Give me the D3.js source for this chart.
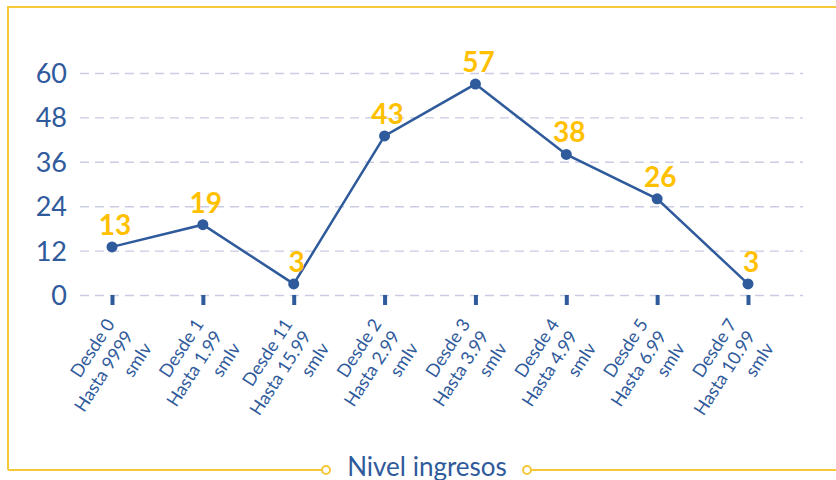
<!DOCTYPE html>
<html>
<head>
<meta charset="utf-8">
<script src="https://cdn.jsdelivr.net/npm/d3@7"></script>
<style>
  html, body { margin: 0; padding: 0; background: #fff; }
  svg { display: block; font-family: "Lato", "Noto Sans", sans-serif; }
</style>
</head>
<body>
<svg id="chart" width="836" height="480"></svg>
<script>
// Income brackets (each label drawn on three lines)
const categories = [
  "Desde 0\nHasta 9999\nsmlv",
  "Desde 1\nHasta 1.99\nsmlv",
  "Desde 11\nHasta 15.99\nsmlv",
  "Desde 2\nHasta 2.99\nsmlv",
  "Desde 3\nHasta 3.99\nsmlv",
  "Desde 4\nHasta 4.99\nsmlv",
  "Desde 5\nHasta 6.99\nsmlv",
  "Desde 7\nHasta 10.99\nsmlv"
];
const values = [13, 19, 3, 43, 57, 38, 26, 3];
const yTicks = [0, 12, 24, 36, 48, 60];
const axisTitle = "Nivel ingresos";

const BLUE = "#2F5A9B";
const GOLD = "#FFC000";
const FRAME = "#F7C73A";
const GRID = "#C9CCE2";

const svg = d3.select("#chart");

const plot = { left: 80, right: 803, top: 73, bottom: 295 };

const y = d3.scaleLinear().domain([0, 60]).range([plot.bottom, plot.top]);
const x = d3.scalePoint().domain(categories).range([112, 748]);
// Anchor points for the rotated category labels (end of the middle line)
const xLabel = d3.scalePoint().domain(categories).range([130, 752]);

// Frame: top + left border, bottom rule interrupted by the axis title
const frame = svg.append("g").attr("fill", "none").attr("stroke", FRAME).attr("stroke-width", 2);
frame.append("path").attr("d", "M8,470 V7 H836");
frame.append("line").attr("x1", 8).attr("x2", 322).attr("y1", 470).attr("y2", 470);
frame.append("line").attr("x1", 531).attr("x2", 836).attr("y1", 470).attr("y2", 470);
frame.selectAll("circle.knob").data([326, 527]).join("circle")
  .attr("class", "knob").attr("cx", d => d).attr("cy", 470).attr("r", 4)
  .attr("fill", "#fff");

svg.append("text")
  .attr("x", 427).attr("y", 476)
  .attr("text-anchor", "middle")
  .attr("fill", BLUE)
  .attr("font-size", 26)
  .text(axisTitle);

// Y axis with dashed gridlines
const yAxis = svg.append("g")
  .attr("transform", `translate(${plot.left},0)`)
  .call(d3.axisLeft(y).tickValues(yTicks).tickSize(-(plot.right - plot.left)).tickPadding(13));
yAxis.select(".domain").remove();
yAxis.selectAll(".tick line")
  .attr("stroke", GRID).attr("stroke-width", 1.4).attr("stroke-dasharray", "9,6");
yAxis.selectAll(".tick text")
  .attr("fill", BLUE).attr("font-size", 27).attr("font-family", "Lato, sans-serif")
  .attr("dy", "0.35em");

// X axis: short heavy ticks, rotated three-line labels
const xAxis = svg.append("g")
  .attr("transform", `translate(0,${plot.bottom})`)
  .call(d3.axisBottom(x).tickSize(10).tickFormat(""));
xAxis.select(".domain").remove();
xAxis.selectAll(".tick line").attr("stroke", BLUE).attr("stroke-width", 4);

const labels = svg.append("g")
  .selectAll("text")
  .data(categories)
  .join("text")
  .attr("transform", d => `translate(${xLabel(d) + 4},${plot.bottom + 41}) rotate(-57)`)
  .attr("text-anchor", "end")
  .attr("fill", BLUE)
  .attr("font-size", 18);
labels.selectAll("tspan")
  .data(d => d.split("\n"))
  .join("tspan")
  .attr("x", 0)
  .attr("y", (d, i) => (i - 1) * 22)
  .text(d => d);

// Series line and markers
const line = d3.line().x((d, i) => x(categories[i])).y(d => y(d));
svg.append("path")
  .datum(values)
  .attr("d", line)
  .attr("fill", "none")
  .attr("stroke", BLUE)
  .attr("stroke-width", 2.5);

svg.append("g").selectAll("circle")
  .data(values)
  .join("circle")
  .attr("cx", (d, i) => x(categories[i]))
  .attr("cy", d => y(d))
  .attr("r", 5.5)
  .attr("fill", BLUE);

// Value labels above each point
svg.append("g").selectAll("text")
  .data(values)
  .join("text")
  .attr("x", (d, i) => x(categories[i]) + 3)
  .attr("y", d => y(d) - 12)
  .attr("text-anchor", "middle")
  .attr("fill", GOLD)
  .attr("font-size", 28)
  .attr("font-weight", "bold")
  .text(d => d);
</script>
</body>
</html>
